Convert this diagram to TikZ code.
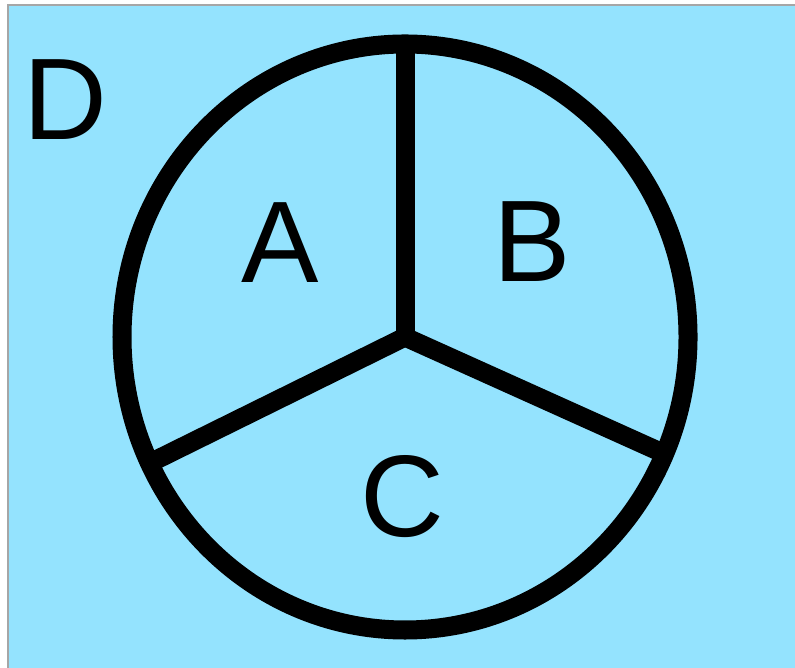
\documentclass[tikz,border=0pt]{standalone}
\usepackage{fontspec}
\setmainfont{Liberation Sans}
\definecolor{skyfill}{RGB}{148,227,254}
\tikzset{
  part/.style={inner sep=0pt, font=\fontsize{33}{33}\selectfont},
  rim/.style={line width=0.19cm}
}
\begin{document}
\begin{tikzpicture}[x=0.01cm, y=-0.01cm]
\useasboundingbox (0,0) rectangle (795,668);
\fill[skyfill, draw=gray!70, line width=0.4pt] (8,5) rectangle (800,675);
\coordinate (O) at (405,337);
\path (O) ++(270:283 and 293) coordinate (top);
\path (O) ++(154.5:283 and 293) coordinate (left);
\path (O) ++(23.5:283 and 293) coordinate (right);
\draw[rim] (O) ellipse [x radius=283, y radius=293];
\draw[rim] (O) -- (top);
\draw[rim] (O) -- (left);
\draw[rim] (O) -- (right);
\node[part] (labA) at (280,243) {A};
\node[part] (labB) at (532,242) {B};
\node[part] (labC) at (402,497) {C};
\node[part] (labD) at (65,100) {D};
\end{tikzpicture}
\end{document}
